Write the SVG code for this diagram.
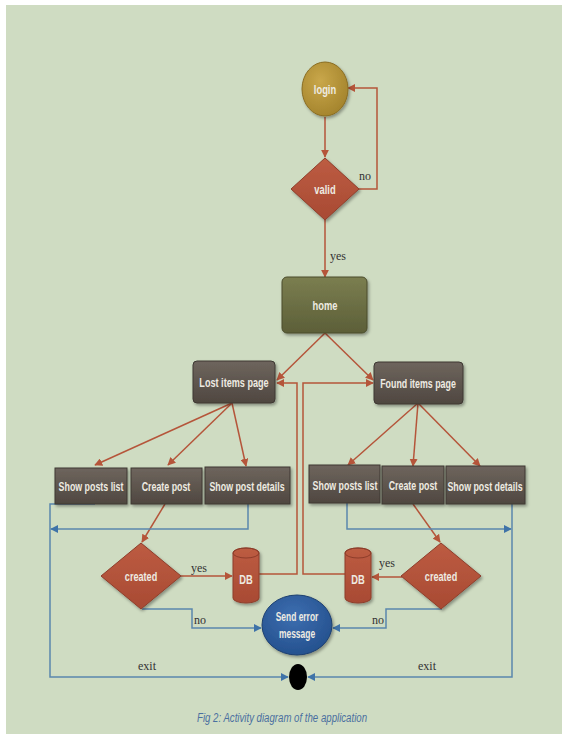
<svg xmlns="http://www.w3.org/2000/svg" width="562" height="734" viewBox="0 0 562 734">
<defs>
<linearGradient id="gBox" x1="0" y1="0" x2="0" y2="1"><stop offset="0" stop-color="#6e655d"/><stop offset="1" stop-color="#4f4740"/></linearGradient>
<linearGradient id="gHome" x1="0" y1="0" x2="0" y2="1"><stop offset="0" stop-color="#7b7e50"/><stop offset="1" stop-color="#5c5f38"/></linearGradient>
<radialGradient id="gLogin" cx="0.4" cy="0.35" r="0.7"><stop offset="0" stop-color="#c9a74a"/><stop offset="1" stop-color="#a3832c"/></radialGradient>
<radialGradient id="gErr" cx="0.45" cy="0.35" r="0.7"><stop offset="0" stop-color="#3d6eb0"/><stop offset="1" stop-color="#234f8c"/></radialGradient>
<linearGradient id="gRed" x1="0" y1="0" x2="0" y2="1"><stop offset="0" stop-color="#bd5c42"/><stop offset="1" stop-color="#a84a33"/></linearGradient>
<filter id="sh" x="-20%" y="-20%" width="150%" height="160%"><feDropShadow dx="1.5" dy="2" stdDeviation="1.5" flood-color="#000" flood-opacity="0.35"/></filter>
<marker id="ar" viewBox="0 0 10 10" refX="9" refY="5" markerWidth="8" markerHeight="8" markerUnits="userSpaceOnUse" orient="auto"><path d="M0 0 L10 5 L0 10 Z" fill="#b5553a"/></marker>
<marker id="ab" viewBox="0 0 10 10" refX="9" refY="5" markerWidth="8" markerHeight="8" markerUnits="userSpaceOnUse" orient="auto"><path d="M0 0 L10 5 L0 10 Z" fill="#3f73a8"/></marker>
<style>
.box{fill:url(#gBox);stroke:#3e3832;stroke-width:1;filter:url(#sh)}
.dia{fill:url(#gRed);stroke:#8e3d2a;stroke-width:1;filter:url(#sh)}
.t{font-family:"Liberation Sans",Arial,sans-serif;font-weight:bold;font-size:13px;fill:#eeebe2;text-anchor:middle}
.lab{font-family:"Liberation Serif","Times New Roman",serif;font-size:12px;fill:#333}
.r{fill:none;stroke:#b5553a;stroke-width:1.5;marker-end:url(#ar)}
.b{fill:none;stroke:#5b87ad;stroke-width:1.5;marker-end:url(#ab)}
</style>
</defs>
<rect x="0" y="0" width="562" height="734" fill="#ffffff"/>
<rect x="6" y="5" width="556" height="729" fill="#cfdcc2"/>

<g id="connectors">
<path class="r" d="M325 117 V157"/>
<path class="r" d="M359 189 H377 V88 H348"/>
<path class="r" d="M325 220 V277"/>
<path class="r" d="M325 333 L277 380"/>
<path class="r" d="M325 333 L373 380"/>
<path class="r" d="M232 403 L95 465"/>
<path class="r" d="M232 403 L168 465"/>
<path class="r" d="M232 403 L246 466"/>
<path class="r" d="M418 403 L348 465"/>
<path class="r" d="M418 403 L413 466"/>
<path class="r" d="M418 403 L480 466"/>
<path class="r" d="M165 504 L142 542"/>
<path class="r" d="M413 504 L440 542"/>
<path class="r" d="M181 576 H232"/>
<path class="r" d="M402 577 H372"/>
<path class="r" d="M259 574 H297 V383 H277"/>
<path class="r" d="M345 574 H303 V383 H373"/>
<path class="b" d="M95 504 H50 V677 H288"/>
<path class="b" d="M248 504 V529 H51"/>
<path class="b" d="M347 503 V529 H511"/>
<path class="b" d="M512 504 V677 H308"/>
<path class="b" d="M142 609 H192 V628 H261"/>
<path class="b" d="M442 609 H386 V628 H333"/>
<text class="lab" x="359" y="180">no</text>
<text class="lab" x="330" y="260">yes</text>
<text class="lab" x="191" y="572">yes</text>
<text class="lab" x="379" y="567">yes</text>
<text class="lab" x="194" y="624">no</text>
<text class="lab" x="372" y="624">no</text>
<text class="lab" x="138" y="670">exit</text>
<text class="lab" x="418" y="670">exit</text>
</g>

<g id="login">
<ellipse cx="325" cy="89" rx="23" ry="27" fill="url(#gLogin)" stroke="#8a6d22" stroke-width="1" filter="url(#sh)"/>
<text class="t" transform="translate(325,94) scale(0.72,1)">login</text>
</g>
<g id="valid">
<polygon class="dia" points="325,158 359,189 325,220 291,189"/>
<text class="t" transform="translate(325,194) scale(0.72,1)">valid</text>
</g>
<g id="home">
<rect x="282" y="277" width="85" height="56" rx="5" fill="url(#gHome)" stroke="#4a4c2c" stroke-width="1" filter="url(#sh)"/>
<text class="t" transform="translate(325,310) scale(0.72,1)">home</text>
</g>
<g id="lost">
<rect class="box" x="193" y="361" width="82" height="42" rx="4"/>
<text class="t" transform="translate(234,387) scale(0.7,1)">Lost items page</text>
</g>
<g id="found">
<rect class="box" x="374" y="362" width="89" height="42" rx="4"/>
<text class="t" transform="translate(418,388) scale(0.68,1)">Found items page</text>
</g>
<g id="showListL">
<rect class="box" x="55" y="468" width="72" height="36"/>
<text class="t" transform="translate(91,491) scale(0.68,1)">Show posts list</text>
</g>
<g id="createL">
<rect class="box" x="131" y="468" width="71" height="36"/>
<text class="t" transform="translate(166,491) scale(0.68,1)">Create post</text>
</g>
<g id="detailsL">
<rect class="box" x="205" y="467" width="85" height="37"/>
<text class="t" transform="translate(247,491) scale(0.68,1)">Show post details</text>
</g>
<g id="showListR">
<rect class="box" x="309" y="465" width="71" height="38"/>
<text class="t" transform="translate(345,490) scale(0.68,1)">Show posts list</text>
</g>
<g id="createR">
<rect class="box" x="382" y="466" width="62" height="38"/>
<text class="t" transform="translate(413,490) scale(0.68,1)">Create post</text>
</g>
<g id="detailsR">
<rect class="box" x="446" y="466" width="79" height="38"/>
<text class="t" transform="translate(485,491) scale(0.68,1)">Show post details</text>
</g>
<g id="createdL">
<polygon class="dia" points="141,543 181,576 141,609 101,576"/>
<text class="t" transform="translate(141,581) scale(0.7,1)">created</text>
</g>
<g id="createdR">
<polygon class="dia" points="441,543 481,576 441,609 401,576"/>
<text class="t" transform="translate(441,581) scale(0.7,1)">created</text>
</g>
<g id="dbL">
<path d="M233 553 A13 5 0 0 1 259 553 V598 A13 5 0 0 1 233 598 Z" fill="url(#gRed)" stroke="#8e3d2a" stroke-width="1" filter="url(#sh)"/>
<ellipse cx="246" cy="553" rx="13" ry="5" fill="none" stroke="#8e3d2a" stroke-width="1"/>
<text class="t" transform="translate(246,584) scale(0.72,1)">DB</text>
</g>
<g id="dbR">
<path d="M345 553 A13 5 0 0 1 371 553 V598 A13 5 0 0 1 345 598 Z" fill="url(#gRed)" stroke="#8e3d2a" stroke-width="1" filter="url(#sh)"/>
<ellipse cx="358" cy="553" rx="13" ry="5" fill="none" stroke="#8e3d2a" stroke-width="1"/>
<text class="t" transform="translate(358,584) scale(0.72,1)">DB</text>
</g>
<g id="error">
<ellipse cx="297" cy="625" rx="35" ry="30" fill="url(#gErr)" stroke="#1e4070" stroke-width="1" filter="url(#sh)"/>
<text class="t" transform="translate(297,621) scale(0.65,1)">Send error</text>
<text class="t" transform="translate(297,638) scale(0.65,1)">message</text>
</g>
<g id="end">
<ellipse cx="298" cy="677" rx="9" ry="13" fill="#000"/>
</g>
<text x="282" y="722" font-family="'Liberation Sans',Arial,sans-serif" font-style="italic" font-size="12" fill="#4a6fa0" text-anchor="middle" textLength="170" lengthAdjust="spacingAndGlyphs">Fig 2: Activity diagram of the application</text>
</svg>
